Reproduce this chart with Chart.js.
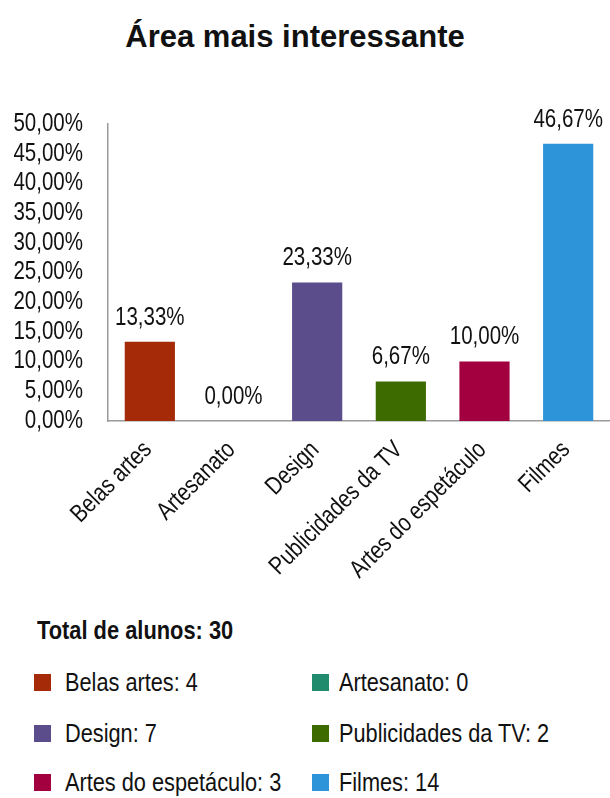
<!DOCTYPE html>
<html lang="pt">
<head>
<meta charset="utf-8">
<title>Área mais interessante</title>
<script src="https://cdn.jsdelivr.net/npm/chart.js@4"></script>
<style>
    body { margin: 0; background: #fff; }
    #wrap { position: relative; width: 610px; height: 798px; overflow: hidden;
            font-family: 'Liberation Sans', Arial, sans-serif; color: #111; }
    #titulo { position: absolute; left: 0; top: 17px; width: 590px; text-align: center;
              font: bold 31px 'Liberation Sans', Arial, sans-serif; line-height: 40px; }
    #grafico { position: absolute; left: 0; top: 0; }
    #total { position: absolute; left: 37px; top: 614px; font-weight: bold; font-size: 26px; line-height: 32px;
             white-space: nowrap; transform: scaleX(0.84); transform-origin: left center; }
    .item { position: absolute; line-height: 30px; white-space: nowrap; }
    .item span { position: absolute; width: 17px; height: 17px; left: -31px; top: 7px; }
    .item.dir span { left: -27px; }
    .item b { display: inline-block; font-weight: normal; font-size: 26.5px;
              transform: scaleX(0.82); transform-origin: left center; }
</style>
</head>
<body>
<div id="wrap">
    <div id="titulo">Área mais interessante</div>
    <canvas id="grafico" width="610" height="600"></canvas>
    <div id="total"></div>
    <div id="legenda"></div>
</div>
<script>
const categorias = ['Belas artes', 'Artesanato', 'Design', 'Publicidades da TV', 'Artes do espetáculo', 'Filmes'];
const alunos = [4, 0, 7, 2, 3, 14];
const percentagens = [13.33, 0.00, 23.33, 6.67, 10.00, 46.67];
const cores = ['#A52A08', '#218B6E', '#5B4D8B', '#3D6B00', '#A3003F', '#2E94DA'];
const ticksY = [0, 5, 10, 15, 20, 25, 30, 35, 40, 45, 50];

const fonte = "25px 'Liberation Sans', Arial, sans-serif";
const estreito = 0.82; // letra condensada

function formatarPct(v) {
    return v.toFixed(2).replace('.', ',') + '%';
}

// escreve texto condensado num ponto, com rotação opcional
function textoEstreito(ctx, txt, x, y, align, rot) {
    ctx.save();
    ctx.translate(x, y);
    if (rot) ctx.rotate(rot);
    ctx.scale(estreito, 1);
    ctx.textAlign = align;
    ctx.textBaseline = 'middle';
    ctx.fillText(txt, 0, 0);
    ctx.restore();
}

// rótulos dos eixos e valores por cima das barras
const rotulos = {
    id: 'rotulos',
    afterDraw(chart) {
        const ctx = chart.ctx;
        const sx = chart.scales.x;
        const sy = chart.scales.y;
        ctx.save();
        ctx.font = fonte;
        ctx.fillStyle = '#111';

        sy.ticks.forEach(t => {
            textoEstreito(ctx, formatarPct(t.value), sy.right - 25, sy.getPixelForValue(t.value), 'right');
        });

        categorias.forEach((c, i) => {
            textoEstreito(ctx, c, sx.getPixelForTick(i) - 2, sx.top + 25, 'right', -Math.PI / 4);
        });

        chart.getDatasetMeta(0).data.forEach((barra, i) => {
            textoEstreito(ctx, formatarPct(percentagens[i]), barra.x, barra.y - 24, 'center');
        });
        ctx.restore();
    }
};

const ctx = document.getElementById('grafico').getContext('2d');
const chart = new Chart(ctx, {
    type: 'bar',
    data: {
        labels: categorias,
        datasets: [{
            data: percentagens,
            backgroundColor: cores,
            barPercentage: 0.6,
            categoryPercentage: 1.0
        }]
    },
    options: {
        responsive: false,
        animation: false,
        layout: { padding: { top: 124, left: 0, right: 0, bottom: 0 } },
        plugins: {
            legend: { display: false },
            tooltip: { enabled: false }
        },
        scales: {
            x: {
                grid: { display: false, drawTicks: false },
                border: { display: true, color: '#9a9a9a', width: 1.5 },
                ticks: { display: false, autoSkip: false },
                afterFit: s => { s.height = 600 - 421; }
            },
            y: {
                min: 0,
                max: 50,
                afterBuildTicks: s => { s.ticks = ticksY.map(v => ({ value: v })); },
                grid: { display: false, drawTicks: false },
                border: { display: true, color: '#9a9a9a', width: 1.5 },
                ticks: { display: false },
                afterFit: s => { s.width = 108; }
            }
        }
    },
    plugins: [rotulos]
});

// legenda em duas colunas
document.getElementById('total').textContent =
    'Total de alunos: ' + alunos.reduce((a, b) => a + b, 0);

const legenda = document.getElementById('legenda');
const colunasX = [65, 339];
const linhasY = [667, 718, 767];
categorias.forEach((nome, i) => {
    const div = document.createElement('div');
    div.className = 'item' + (i % 2 ? ' dir' : '');
    div.style.left = colunasX[i % 2] + 'px';
    div.style.top = linhasY[Math.floor(i / 2)] + 'px';
    div.innerHTML = `<span style="background:${cores[i]}"></span><b>${nome}: ${alunos[i]}</b>`;
    legenda.appendChild(div);
});
</script>
</body>
</html>
